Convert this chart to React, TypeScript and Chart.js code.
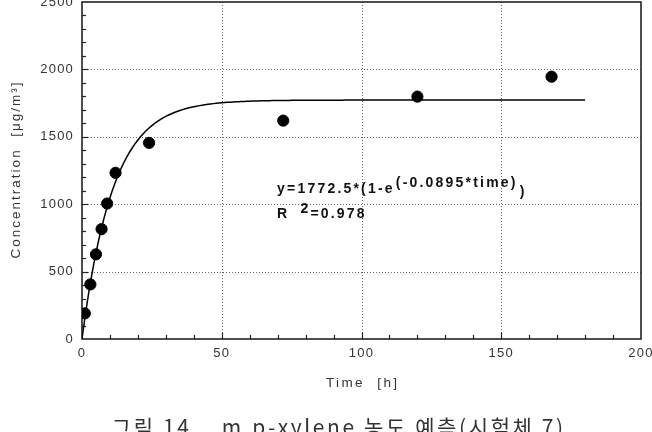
import React, { useEffect, useRef } from "react";
import { Chart, registerables } from "chart.js";

Chart.register(...registerables);

// ---- data ----
const sampleTimes = [1, 3, 5, 7, 9, 12, 24, 72, 120, 168];
const sampleConcentrations = [190, 405, 628, 815, 1005, 1233, 1455, 1620, 1798, 1946];
const xTickValues = [0, 50, 100, 150, 200];
const yTickValues = [0, 500, 1000, 1500, 2000, 2500];

// fitted model shown in the chart: y = A * (1 - e^(-k * t)), drawn for t in [0, 180]
const fitAmplitude = 1772.5;
const fitRate = 0.0895;
const fitEnd = 180;
const fitTimes = Array.from({ length: fitEnd + 1 }, (_, i) => i);
const fitValues = fitTimes.map((t) => fitAmplitude * (1 - Math.exp(-fitRate * t)));

// ---- texts ----
const equationMain = "y=1772.5*(1-e";
const equationExponent = "(-0.0895*time)";
const equationClose = ")";
const r2Letter = "R";
const r2Power = "2";
const r2Value = "=0.978";
const xTitle = "Time  [h]";
const yTitle = "Concentration  [\u03bcg/m\u00b3]";
const caption = "그림 14.   m,p-xylene 농도 예측(시험체 7)";

// annotation anchor (data coordinates)
const annotationX = 69.8;
const annotationY = 1083;

const FONT = "'Liberation Sans', Arial, sans-serif";

const decorPlugin = {
  id: "decor",
  beforeDraw(chart: any) {
    (chart.ctx as any).letterSpacing = "1.2px";
  },
  beforeDatasetsDraw(chart: any) {
    const { ctx, chartArea: a, scales } = chart;
    const x = scales.x;
    const y = scales.y;
    ctx.save();
    (ctx as any).letterSpacing = "0px";
    // dotted grid
    ctx.strokeStyle = "#666";
    ctx.lineWidth = 1;
    ctx.setLineDash([1, 2]);
    xTickValues.forEach((v) => {
      if (v === x.min || v === x.max) return;
      const px = Math.round(x.getPixelForValue(v)) + 0.5;
      ctx.beginPath();
      ctx.moveTo(px, a.top);
      ctx.lineTo(px, a.bottom);
      ctx.stroke();
    });
    yTickValues.forEach((v) => {
      if (v === y.min || v === y.max) return;
      const py = Math.round(y.getPixelForValue(v)) + 0.5;
      ctx.beginPath();
      ctx.moveTo(a.left, py);
      ctx.lineTo(a.right, py);
      ctx.stroke();
    });
    ctx.setLineDash([]);
    // inward tick marks
    ctx.strokeStyle = "#222";
    ctx.lineWidth = 1.2;
    for (let v = 100; v < y.max; v += 100) {
      const py = Math.round(y.getPixelForValue(v)) + 0.5;
      ctx.beginPath();
      ctx.moveTo(a.left, py);
      ctx.lineTo(a.left + (v % 500 === 0 ? 6 : 4), py);
      ctx.stroke();
    }
    for (let v = 10; v < x.max; v += 10) {
      const px = Math.round(x.getPixelForValue(v)) + 0.5;
      ctx.beginPath();
      ctx.moveTo(px, a.bottom);
      ctx.lineTo(px, a.bottom - (v % 50 === 0 ? 6 : 4));
      ctx.stroke();
    }
    // frame
    ctx.strokeStyle = "#222";
    ctx.lineWidth = 1.6;
    ctx.strokeRect(a.left, a.top, a.right - a.left, a.bottom - a.top);

    // y tick labels, positioned by the y scale
    (ctx as any).letterSpacing = "1.2px";
    ctx.fillStyle = "#333";
    ctx.font = `13px ${FONT}`;
    ctx.textAlign = "right";
    ctx.textBaseline = "middle";
    yTickValues.forEach((v) => {
      ctx.fillText(String(v), a.left - 8, y.getPixelForValue(v));
    });
    ctx.restore();
  },
  afterDraw(chart: any) {
    const { ctx, chartArea: a, scales } = chart;
    const x = scales.x;
    const y = scales.y;
    ctx.save();
    ctx.textAlign = "left";
    ctx.textBaseline = "alphabetic";
    ctx.fillStyle = "#111";

    const drawRun = (parts: { text: string; dy: number; dx?: number }[], x0: number, yBase: number) => {
      let cx = x0;
      parts.forEach((p) => {
        cx += p.dx || 0;
        ctx.fillText(p.text, cx, yBase + p.dy);
        cx += ctx.measureText(p.text).width;
      });
    };
    (ctx as any).letterSpacing = "2.2px";
    ctx.font = `bold 14px ${FONT}`;
    const ax = x.getPixelForValue(annotationX);
    const ay = y.getPixelForValue(annotationY);
    drawRun(
      [
        { text: equationMain, dy: 0 },
        { text: equationExponent, dy: -6, dx: 1 },
        { text: equationClose, dy: 3, dx: 2 },
      ],
      ax,
      ay
    );
    drawRun(
      [
        { text: r2Letter, dy: 0 },
        { text: r2Power, dy: -5, dx: 11 },
        { text: r2Value, dy: 0 },
      ],
      ax,
      ay + 25
    );

    // x title
    ctx.fillStyle = "#333";
    ctx.font = `13.5px ${FONT}`;
    (ctx as any).letterSpacing = "2.4px";
    ctx.textAlign = "center";
    ctx.fillText(xTitle, (a.left + a.right) / 2 + 1.2, 386.5);

    // y title
    ctx.save();
    (ctx as any).letterSpacing = "2px";
    ctx.font = `13.5px ${FONT}`;
    ctx.translate(20, (a.top + a.bottom) / 2 - 1);
    ctx.rotate(-Math.PI / 2);
    ctx.textAlign = "center";
    ctx.fillText(yTitle, 0, 0);
    ctx.restore();

    // caption
    (ctx as any).letterSpacing = "2.6px";
    ctx.fillStyle = "#333";
    ctx.font = `21px 'Noto Sans CJK KR', sans-serif`;
    ctx.textAlign = "center";
    ctx.fillText(caption, 338.8, 435);
    ctx.restore();
  },
};

export default function App() {
  const canvasRef = useRef<HTMLCanvasElement | null>(null);

  useEffect(() => {
    if (!canvasRef.current) return;
    const chart = new Chart(canvasRef.current, {
      type: "scatter",
      data: {
        datasets: [
          {
            label: "measured",
            data: sampleTimes.map((t, i) => ({ x: t, y: sampleConcentrations[i] })),
            backgroundColor: "#000",
            borderColor: "#000",
            pointRadius: 5.6,
            pointHoverRadius: 5.6,
            showLine: false,
            order: 0,
          },
          {
            label: "fit",
            type: "line",
            data: fitTimes.map((t, i) => ({ x: t, y: fitValues[i] })),
            borderColor: "#000",
            borderWidth: 1.5,
            pointRadius: 0,
            fill: false,
            tension: 0,
            order: 1,
          } as any,
        ],
      },
      options: {
        animation: false,
        responsive: false,
        maintainAspectRatio: false,
        layout: { autoPadding: false, padding: { left: 0, right: 11, top: 2, bottom: 0 } },
        plugins: {
          legend: { display: false },
          tooltip: { enabled: false },
          title: { display: false },
        },
        scales: {
          x: {
            type: "linear",
            min: 0,
            max: 200,
            afterBuildTicks: (s: any) => {
              s.ticks = xTickValues.map((v) => ({ value: v }));
            },
            afterFit: (s: any) => {
              s.height = 93;
              s.paddingLeft = 0;
              s.paddingRight = 0;
            },
            grid: { display: false, drawTicks: false },
            border: { display: false },
            ticks: {
              padding: 7,
              color: "#333",
              font: { family: FONT, size: 13 },
              maxRotation: 0,
              autoSkip: false,
              callback: (v: any) => String(v),
            },
          },
          y: {
            type: "linear",
            min: 0,
            max: 2500,
            afterBuildTicks: (s: any) => {
              s.ticks = yTickValues.map((v) => ({ value: v }));
            },
            afterFit: (s: any) => {
              s.width = 82;
              s.paddingTop = 0;
              s.paddingBottom = 0;
            },
            grid: { display: false, drawTicks: false },
            border: { display: false },
            ticks: { display: false, padding: 0 },
          },
        },
      },
      plugins: [decorPlugin],
    });
    return () => chart.destroy();
  }, []);

  return (
    <div style={{ position: "absolute", left: 0, top: 0, width: 652, height: 432, background: "#fff" }}>
      <canvas ref={canvasRef} width={652} height={432} style={{ display: "block", width: 652, height: 432 }} />
    </div>
  );
}
